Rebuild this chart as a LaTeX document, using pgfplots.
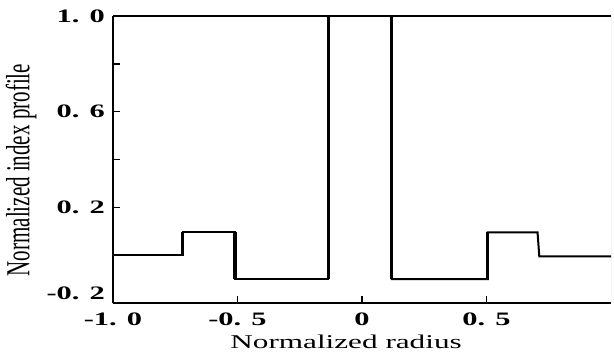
\documentclass[border=0pt]{standalone}
\usepackage{fontspec}
\setmainfont{Liberation Serif}
\usepackage{pgfplots}
\pgfplotsset{compat=1.18}
\usetikzlibrary{calc}
\newcommand\tl[1]{\scalebox{1.6}[1]{\fontsize{19}{19}\selectfont\bfseries #1}}
\begin{document}
\begin{tikzpicture}
\begin{axis}[
  name=ax, at={(0,0)}, anchor=south west,
  scale only axis, width=498pt, height=287pt,
  xmin=-1, xmax=1, ymin=-0.2, ymax=1.0,
  axis x line*=box, axis y line*=left,
  axis line style={line width=2.5pt, -},
  xtick={-1,-0.5,0,0.5},
  xticklabels={\tl{-1. 0},\tl{-0. 5},\tl{0},\tl{0. 5}},
  ytick={-0.2,0.2,0.6,1.0},
  yticklabels={\raisebox{3.5pt}[0pt][0pt]{\tl{-0. 2}},\tl{0. 2},\tl{0. 6},\tl{1. 0}},
  minor ytick={0,0.4,0.8},
  xtick pos=bottom, ytick pos=left,
  tick align=inside, major tick length=7pt, minor tick length=7pt,
  tick style={line width=1.5pt, black},
  xticklabel style={inner sep=0pt, anchor=north, yshift=-10pt},
  yticklabel style={inner sep=0pt, anchor=east, xshift=-8pt},
  xlabel={\scalebox{1.6}[1]{\fontsize{19.5}{19.5}\selectfont Normalized radius}},
  ylabel={\scalebox{1}[1.6]{\fontsize{21}{21}\selectfont Normalized index profile}},
  xlabel style={at={(rel axis cs:0.468,0)}, anchor=north, inner sep=0pt, yshift=-32pt},
  ylabel style={at={(rel axis cs:0,0.463)}, anchor=center, inner sep=0pt, rotate=0, yshift=92pt},
  unbounded coords=jump,
]
\addplot[black, line width=2pt, line join=miter] coordinates {
  (-1,0.0) (-0.72,0.0) (-0.72,0.095) (-0.51,0.095) (-0.51,-0.10)
  (-0.135,-0.10) (-0.135,1.0)
};
\addplot[black, line width=2pt, line join=miter] coordinates {
  (0.12,1.0) (0.12,-0.10) (0.505,-0.10) (0.505,0.095) (0.705,0.095)
  (0.712,-0.005) (1,-0.005)
};
\addplot[black, line width=3.2pt] coordinates {
  (-0.72,0.0) (-0.72,0.095) (nan,nan)
  (-0.51,0.095) (-0.51,-0.10) (nan,nan)
  (-0.135,-0.10) (-0.135,1.0) (nan,nan)
  (0.12,1.0) (0.12,-0.10) (nan,nan)
  (0.505,-0.10) (0.505,0.095)
};
\draw[gray!60, line width=0.8pt] (rel axis cs:1,0) -- (rel axis cs:1,1);
\end{axis}
\pgfresetboundingbox
\path[use as bounding box] ($(ax.south west)+(-113pt,-50pt)$) rectangle ($(ax.north east)+(3pt,16pt)$);
\end{tikzpicture}
\end{document}
